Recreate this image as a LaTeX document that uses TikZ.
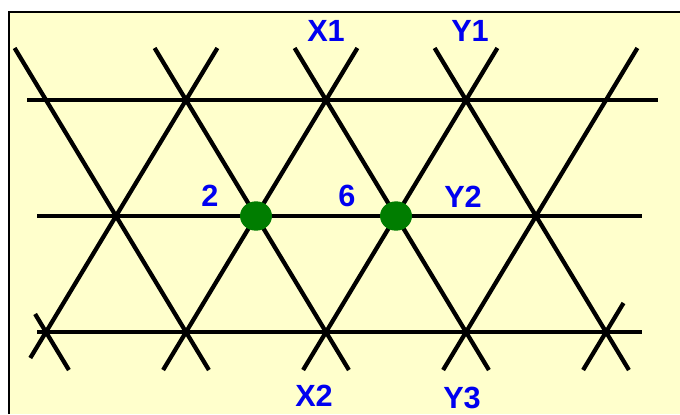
\documentclass[tikz,border=0pt]{standalone}
\usepackage{fontspec}
\setmainfont{Liberation Sans}
\usetikzlibrary{shapes.geometric}
\definecolor{paper}{HTML}{FFFFCC}
\definecolor{dotgreen}{RGB}{0,125,0}
\definecolor{labelblue}{RGB}{0,0,240}
\begin{document}
\begin{tikzpicture}[x=0.75pt,y=-0.75pt,
  gridline/.style={line width=3.2pt,black},
  lbl/.style={text=labelblue,font=\fontsize{23}{26}\selectfont\bfseries,inner sep=0pt},
  greendot/.style={ellipse,fill=dotgreen,minimum width=24pt,minimum height=22pt,inner sep=0pt}]
\useasboundingbox (0,0) rectangle (680,414);
\fill[white] (0,0) rectangle (680,414);
\fill[paper] (9,12) rectangle (680,414);
\draw[line width=1.5pt] (9,414) -- (9,12) -- (680,12);
% horizontal lines
\draw[gridline] (27,100) -- (658,100);
\draw[gridline] (37,216) -- (642,216);
\draw[gridline] (37,332) -- (642,332);
% down-right diagonals
\draw[gridline] (14.6,48) -- (208.9,370);
\draw[gridline] (154.6,48) -- (348.9,370);
\draw[gridline] (294.6,48) -- (488.9,370);
\draw[gridline] (434.6,48) -- (628.9,370);
\draw[gridline] (35.1,314) -- (68.9,370);
% up-right diagonals
\draw[gridline] (217.4,48) -- (30.3,358);
\draw[gridline] (357.4,48) -- (163.1,370);
\draw[gridline] (497.4,48) -- (303.1,370);
\draw[gridline] (637.4,48) -- (443.1,370);
\draw[gridline] (623.5,303) -- (583.1,370);
% dots
\node[greendot] (p2) at (256,216) {};
\node[greendot] (p6) at (396,216) {};
% labels
\node[lbl] (lx1) at (326,31) {X1};
\node[lbl] (ly1) at (470,31) {Y1};
\node[lbl] (l2) at (210,196) {2};
\node[lbl] (l6) at (347,196) {6};
\node[lbl] (ly2) at (463,197) {Y2};
\node[lbl] (lx2) at (314,396) {X2};
\node[lbl] (ly3) at (462,398) {Y3};
\end{tikzpicture}
\end{document}
